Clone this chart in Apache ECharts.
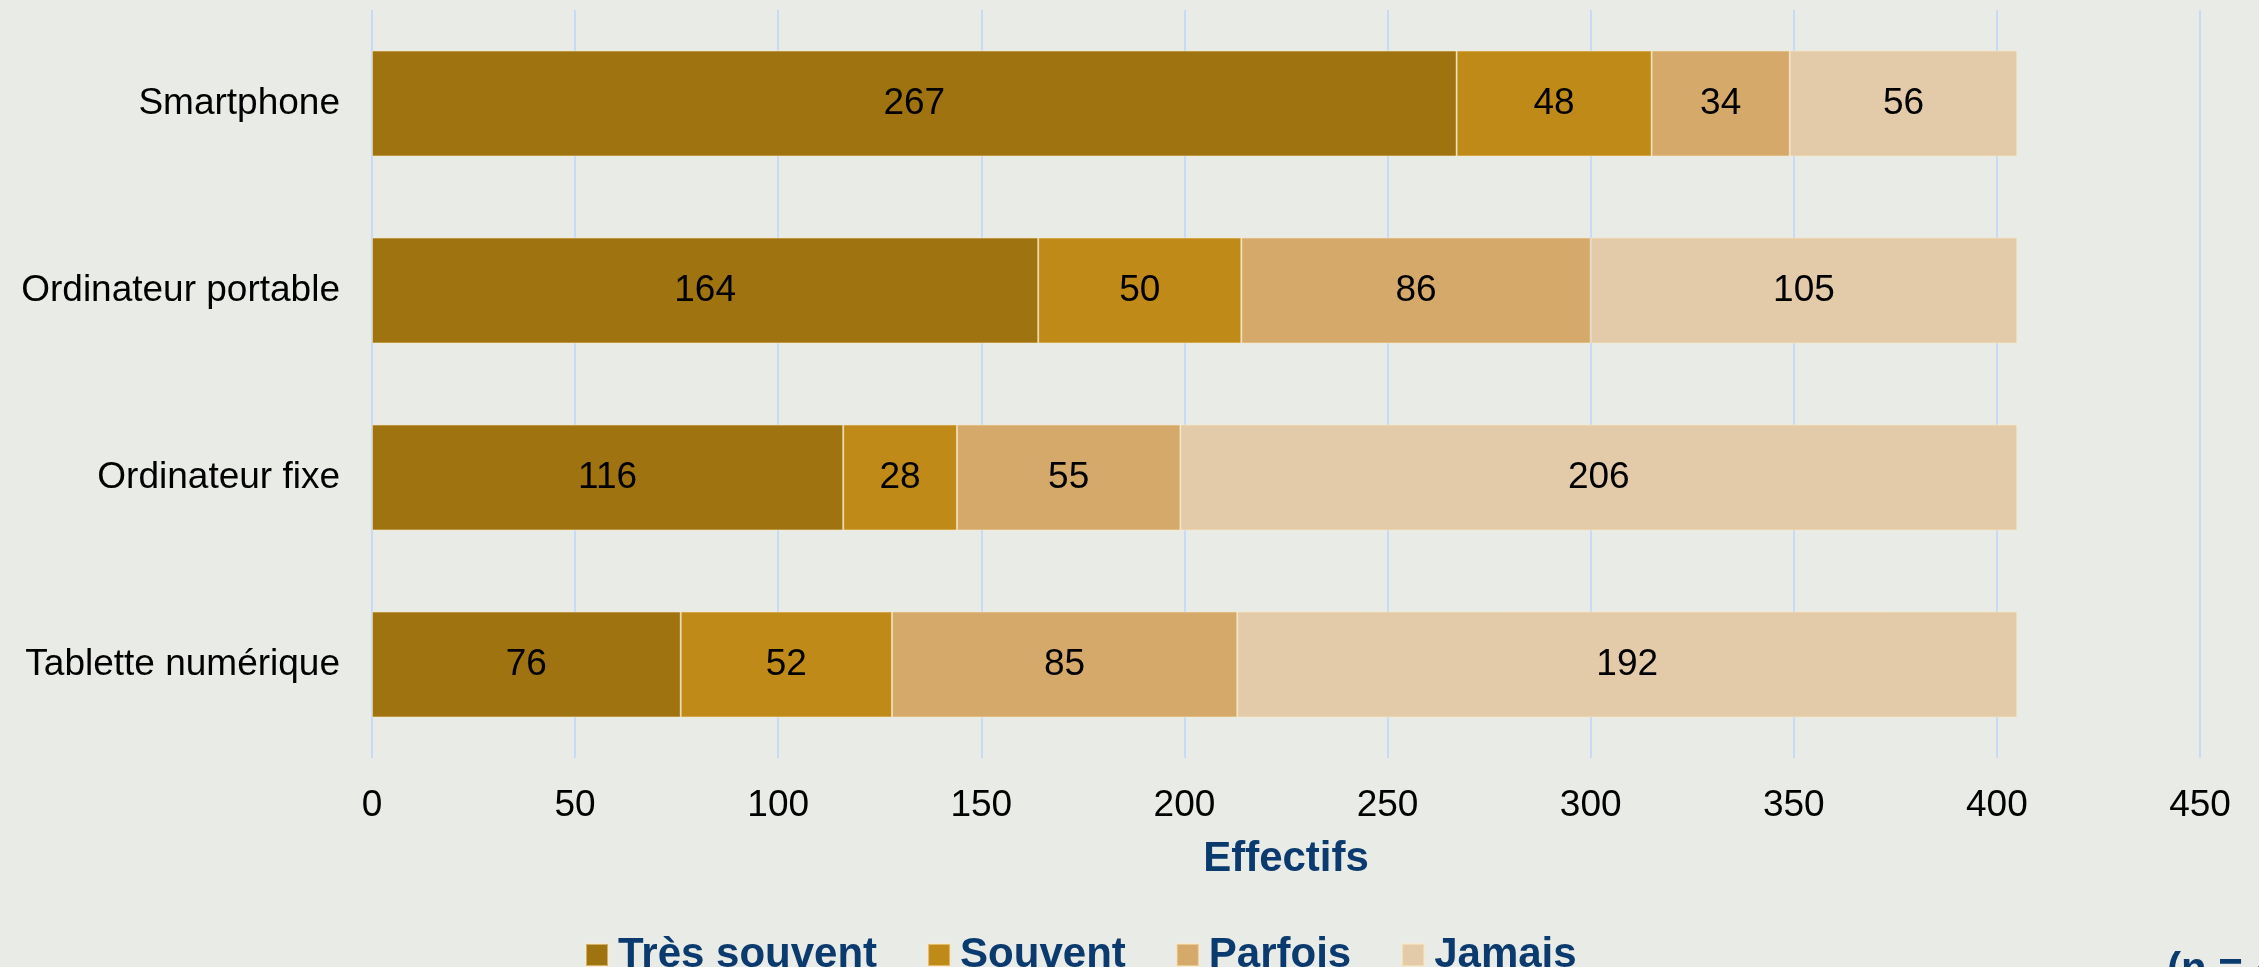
<!DOCTYPE html>
<html>
<head>
<meta charset="utf-8">
<script src="https://cdn.jsdelivr.net/npm/echarts@6/dist/echarts.min.js"></script>
<style>
  html, body { margin: 0; padding: 0; background: #e9ebe6; }
  #main { width: 2259px; height: 967px; }
</style>
</head>
<body>
<div id="main"></div>
<script>
var myChart = echarts.init(document.getElementById('main'));

// categories, top to bottom
const devices = ['Smartphone', 'Ordinateur portable', 'Ordinateur fixe', 'Tablette numérique'];
const seriesNames = ['Très souvent', 'Souvent', 'Parfois', 'Jamais'];
const tresSouvent = [267, 164, 116, 76];
const souvent = [48, 50, 28, 52];
const parfois = [34, 86, 55, 85];
const jamais = [56, 105, 206, 192];
const colors = ['#a07311', '#c08a18', '#d4a96a', '#e3cbaa'];

const values = [tresSouvent, souvent, parfois, jamais];
const total = tresSouvent[0] + souvent[0] + parfois[0] + jamais[0];

const font = 'Liberation Sans, Arial, sans-serif';

option = {
    backgroundColor: '#e9ebe6',
    color: colors,
    textStyle: { fontFamily: font },
    grid: {
        left: 372,
        right: 59,
        top: 10,
        bottom: 209
    },
    legend: {
        left: 585,
        top: 934,
        padding: 0,
        itemWidth: 22,
        itemHeight: 22,
        itemGap: 50,
        icon: 'rect',
        data: seriesNames,
        textStyle: {
            fontFamily: font,
            fontSize: 42,
            fontWeight: 'bold',
            color: '#0b3a6e',
            padding: [0, 0, 0, 5]
        }
    },
    xAxis: {
        type: 'value',
        min: 0,
        max: 450,
        interval: 50,
        name: 'Effectifs',
        nameLocation: 'middle',
        nameGap: 80,
        nameTextStyle: {
            fontFamily: font,
            fontSize: 42,
            fontWeight: 'bold',
            color: '#0b3a6e'
        },
        axisLine: { show: false },
        axisTick: { show: false },
        axisLabel: {
            fontFamily: font,
            fontSize: 37,
            color: '#000',
            margin: 29
        },
        splitLine: {
            show: true,
            lineStyle: { color: '#c8dbf5', width: 2 }
        }
    },
    yAxis: {
        type: 'category',
        data: devices,
        inverse: true,
        axisLine: { show: false },
        axisTick: { show: false },
        axisLabel: {
            fontFamily: font,
            fontSize: 37,
            color: '#000',
            margin: 32
        }
    },
    graphic: [{
        type: 'text',
        left: 2167,
        top: 949,
        style: {
            text: '(n = ' + total + ')',
            fontFamily: font,
            fontSize: 42,
            fontWeight: 'bold',
            fill: '#0b3a6e'
        }
    }],
    series: seriesNames.map(function (name, i) {
        return {
            name: name,
            type: 'bar',
            stack: 'total',
            barWidth: '56.6%',
            data: values[i],
            itemStyle: {
                color: colors[i],
                borderColor: 'rgba(255, 236, 190, 0.5)',
                borderWidth: 1
            },
            label: {
                show: true,
                position: 'inside',
                fontFamily: font,
                fontSize: 37,
                color: '#000'
            },
            emphasis: { disabled: true }
        };
    })
};

myChart.setOption(option);
</script>
</body>
</html>
